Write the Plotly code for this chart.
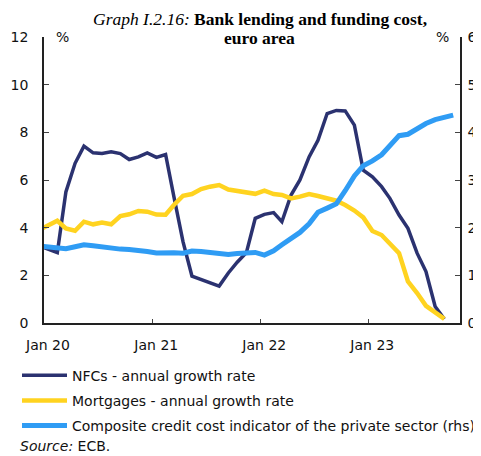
import plotly.graph_objects as go
import pandas as pd

# Monthly dates (mid-month), Dec 2019 .. Oct 2023
dates = pd.date_range("2019-12-01", "2023-10-01", freq="MS") + pd.Timedelta(days=14)
dates = [d.strftime("%Y-%m-%d") for d in dates]

nfc = [3.25, 3.1, 2.95, 5.5, 6.7, 7.42, 7.14, 7.11, 7.18, 7.11, 6.86, 6.97, 7.14,
       6.95, 7.07, 5.3, 3.4, 1.97, 1.83, 1.7, 1.55, 2.1, 2.55, 2.95, 4.39,
       4.56, 4.63, 4.25, 5.37, 6.0, 6.97, 7.67, 8.79, 8.92, 8.9, 8.3, 6.41,
       6.13, 5.72, 5.23, 4.53, 3.97, 2.93, 2.16, 0.69, 0.17]

mortgages = [3.9, 4.1, 4.29, 3.97, 3.87, 4.25, 4.14, 4.21, 4.14, 4.49, 4.56, 4.7, 4.67,
             4.55, 4.54, 4.95, 5.34, 5.41, 5.62, 5.72, 5.79, 5.6, 5.55, 5.5, 5.42,
             5.55, 5.41, 5.37, 5.23, 5.3, 5.41, 5.33, 5.23, 5.13, 4.95, 4.72, 4.43,
             3.86, 3.69, 3.32, 2.93, 1.74, 1.26, 0.72, 0.43, 0.17]

composite = [1.615, 1.6, 1.59, 1.56, 1.6, 1.64, 1.62, 1.59, 1.57, 1.55, 1.54, 1.53, 1.5,
             1.47, 1.485, 1.475, 1.465, 1.51, 1.5, 1.485, 1.445, 1.435, 1.46, 1.475, 1.48,
             1.425, 1.515, 1.64, 1.76, 1.9, 2.08, 2.325, 2.41, 2.5, 2.775, 3.085, 3.3,
             3.4, 3.53, 3.71, 3.93, 3.96, 4.09, 4.185, 4.265, 4.3, 4.36]

names = ["NFCs - annual growth rate",
         "Mortgages - annual growth rate",
         "Composite credit cost indicator of the private sector (rhs)"]
colors = ["#2b3270", "#ffd320", "#2f9cf4"]

SANS = "DejaVu Sans"
SERIF = "Liberation Serif"
fig = go.Figure()
fig.add_trace(go.Scatter(x=dates[:len(nfc)], y=nfc, name=names[0], mode="lines",
                         line=dict(color=colors[0], width=3.5), legendgroup="a"))
fig.add_trace(go.Scatter(x=dates[:len(mortgages)], y=mortgages, name=names[1], mode="lines",
                         line=dict(color=colors[1], width=4.5), legendgroup="b"))
fig.add_trace(go.Scatter(x=dates, y=composite, name=names[2], mode="lines", yaxis="y2",
                         line=dict(color=colors[2], width=5), legendgroup="c"))

# page offset of the plot div (default body margin)
OFF = 8
W, H = 481 - OFF, 456 - OFF
# plot area in page pixels
PL, PR, PT, PB = 44, 460, 36.5, 323.3
L, R, T, B = PL - OFF, (481 - PR), PT - OFF, 456 - PB

def px2x(px):  # page px -> paper x
    return (px - PL) / (PR - PL)

def py2y(py):  # page py -> paper y
    return (PB - py) / (PB - PT)

fig.update_layout(
    width=W, height=H,
    margin=dict(l=L, r=R, t=T, b=B, pad=0, autoexpand=False),
    paper_bgcolor="white", plot_bgcolor="white",
    font=dict(family=SANS, size=14, color="#111111"),
    showlegend=True,
    legend=dict(x=px2x(17), y=py2y(360), xanchor="left", yanchor="top",
                font=dict(family=SANS, size=14, color="#111111"),
                tracegroupgap=4, itemwidth=45, bgcolor="rgba(0,0,0,0)"),
    xaxis=dict(type="date", range=["2020-01-01", "2023-11-07"],
               tick0="2020-01-01", dtick="M12", tickformat="%b %y",
               showgrid=False, zeroline=False, showline=True, linecolor="#222222",
               linewidth=1.5, ticks="inside", ticklen=4, tickcolor="#444444",
               ticklabelstandoff=8, ticklabelshift=4, tickfont=dict(family=SANS, size=14),
               automargin=False),
    yaxis=dict(range=[0, 12], dtick=2, showgrid=False, zeroline=False,
               showline=True, linecolor="#222222", linewidth=1.5,
               ticks="inside", ticklen=5, tickcolor="#444444",
               ticklabelstandoff=11, tickfont=dict(family=SANS, size=14),
               automargin=False),
    yaxis2=dict(range=[0, 6], dtick=1, overlaying="y", side="right",
                showgrid=False, zeroline=False, showline=True, linecolor="#222222",
                linewidth=1.5, ticks="inside", ticklen=5, tickcolor="#444444",
                ticklabelstandoff=3, tickfont=dict(family=SANS, size=14),
                automargin=False),
)

fig.add_annotation(xref="paper", yref="paper", x=px2x(260), y=py2y(18), xanchor="center",
                   yanchor="middle", showarrow=False,
                   text="<i>Graph I.2.16:</i> <b>Bank lending and funding cost,</b>",
                   font=dict(family=SERIF, size=17.5, color="#000000"))
fig.add_annotation(xref="paper", yref="paper", x=px2x(259), y=py2y(38), xanchor="center",
                   yanchor="middle", showarrow=False,
                   text="<b>euro area</b>",
                   font=dict(family=SERIF, size=17.5, color="#000000"))
fig.add_annotation(xref="paper", yref="paper", x=px2x(62), y=py2y(36), xanchor="center",
                   yanchor="middle", showarrow=False, text="%",
                   font=dict(family=SANS, size=14, color="#111111"))
fig.add_annotation(xref="paper", yref="paper", x=px2x(442), y=py2y(36), xanchor="center",
                   yanchor="middle", showarrow=False, text="%",
                   font=dict(family=SANS, size=14, color="#111111"))
fig.add_annotation(xref="paper", yref="paper", x=px2x(18), y=py2y(447), xanchor="left",
                   yanchor="middle", showarrow=False, text="<i>Source:</i> ECB.",
                   font=dict(family=SANS, size=14, color="#111111"))

fig.write_html("out.html")
